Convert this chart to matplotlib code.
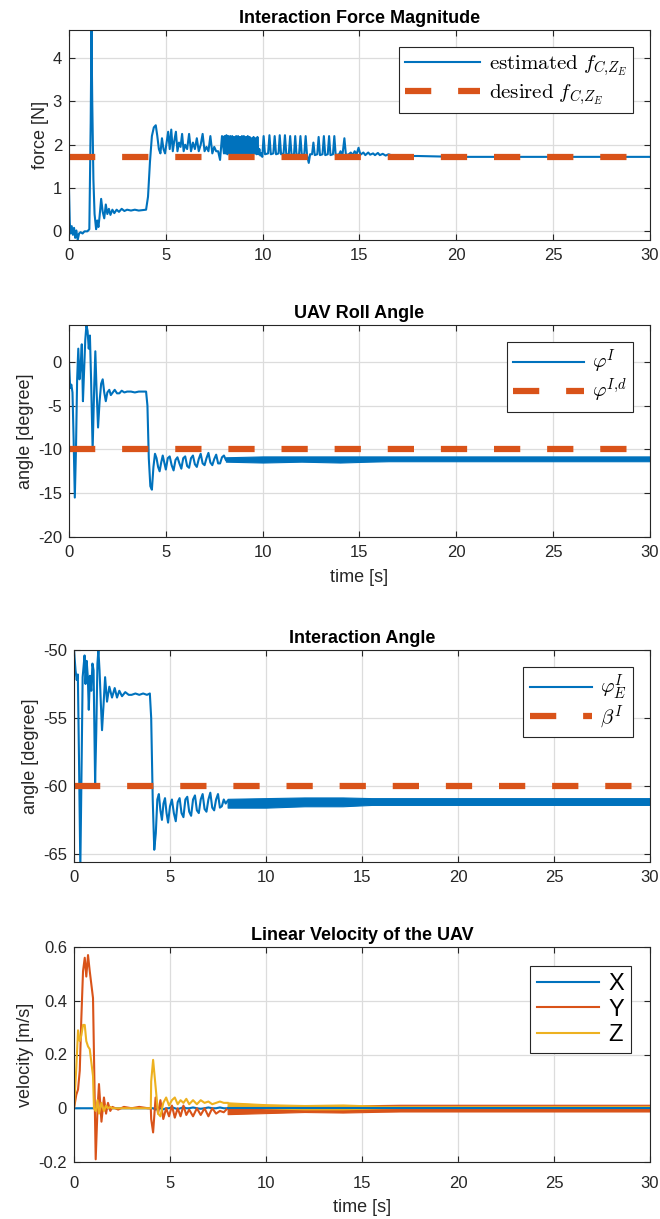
import matplotlib
matplotlib.use("Agg")
import matplotlib.pyplot as plt
import numpy as np

plt.rcParams['font.family'] = ['Liberation Sans', 'DejaVu Sans']
plt.rcParams['mathtext.fontset'] = 'cm'

BLUE = '#0072BD'
ORANGE = '#D95319'
YELLOW = '#EDB120'

# ---- interaction force (estimated), [s], [N]
force_t = [0.00, 0.04, 0.08, 0.14, 0.20, 0.26, 0.32, 0.38, 0.45, 0.52, 0.60, 0.70, 0.80, 0.95,
           1.05, 1.12, 1.16, 1.20, 1.26, 1.32, 1.40, 1.46, 1.52, 1.58, 1.66, 1.74, 1.82, 1.90,
           1.98, 2.06, 2.14, 2.24, 2.34, 2.46, 2.58, 2.72, 2.86, 3.00, 3.20, 3.40, 3.60, 3.80,
           3.98, 4.08, 4.18, 4.28, 4.38, 4.48, 4.56, 4.64, 4.72, 4.80, 4.88, 4.96, 5.04, 5.12,
           5.20, 5.28, 5.36, 5.44, 5.52, 5.60, 5.68, 5.76, 5.84, 5.92, 6.00, 6.10, 6.20, 6.30,
           6.40, 6.50, 6.60, 6.70, 6.80, 6.90, 7.00, 7.10, 7.20, 7.30, 7.40, 7.50, 7.60, 7.70,
           7.80, 7.90, 8.00,
           8.03, 8.08, 8.13, 8.18, 8.23, 8.28, 8.33, 8.38, 8.43, 8.48, 8.53, 8.58, 8.63, 8.68,
           8.73, 8.78, 8.83, 8.88, 8.93, 8.98, 9.03, 9.08, 9.13, 9.18, 9.23, 9.28, 9.33, 9.38,
           9.43, 9.48, 9.53, 9.58, 9.63, 9.68, 9.73, 9.78, 9.83, 9.88, 9.93, 9.98,
           10.05, 10.12, 10.28, 10.35, 10.42, 10.55, 10.62, 10.69, 10.82, 10.88, 10.95, 11.08,
           11.15, 11.22, 11.35, 11.42, 11.49, 11.62, 11.68, 11.75, 11.88, 11.95, 12.02, 12.15,
           12.22, 12.29, 12.38, 12.45, 12.55, 12.62, 12.69, 12.82, 12.89, 12.96, 13.09, 13.16,
           13.23, 13.36, 13.43, 13.50, 13.63, 13.70, 13.77, 13.95, 14.02, 14.12, 14.22, 14.30,
           14.45, 14.55, 14.65, 14.75, 14.85, 14.95, 15.05, 15.20, 15.30, 15.45, 15.55, 15.70,
           15.80, 15.95, 16.05, 16.20, 16.35, 16.50, 16.70, 17.00, 17.50, 18.00, 19.00, 20.00,
           30.00]
force_v = [0.95, 0.20, -0.05, 0.12, -0.08, 0.08, -0.15, 0.02, -0.20, -0.05, -0.02, -0.05, 0.00, 0.00,
           0.05, 2.50, 4.67, 3.00, 1.20, 0.40, 0.05, 0.25, 0.10, 0.35, 0.75, 0.45, 0.30, 0.62,
           0.40, 0.52, 0.38, 0.50, 0.42, 0.50, 0.45, 0.52, 0.47, 0.50, 0.48, 0.50, 0.48, 0.49,
           0.50, 0.80, 1.60, 2.20, 2.40, 2.45, 2.20, 1.90, 1.80, 2.15, 1.90, 1.80, 2.05, 2.30,
           1.90, 2.35, 1.85, 2.10, 2.30, 1.85, 2.05, 1.95, 2.25, 1.85, 2.00, 1.90, 2.25, 1.85,
           2.05, 1.90, 2.15, 1.85, 2.00, 2.25, 1.85, 1.95, 1.85, 2.20, 1.80, 1.95, 1.85, 1.85,
           1.65, 2.20, 1.80,
           2.20, 1.80, 2.22, 1.78, 2.20, 1.80, 2.20, 1.78, 2.20, 1.80, 2.18, 1.80, 2.20, 1.78,
           2.20, 1.80, 2.18, 1.78, 2.20, 1.80, 2.20, 1.78, 2.18, 1.80, 2.20, 1.78, 2.18, 1.80,
           2.15, 1.78, 2.18, 1.80, 2.15, 1.78, 2.18, 1.78, 1.90, 1.75, 1.80, 1.72,
           2.20, 1.78, 1.80, 2.22, 1.78, 1.80, 2.20, 1.78, 1.80, 2.22, 1.78, 1.80,
           2.22, 1.78, 1.78, 2.20, 1.76, 1.78, 2.20, 1.76, 1.78, 2.20, 1.76, 1.78,
           2.20, 1.76, 1.58, 1.78, 1.78, 2.05, 1.76, 1.78, 2.18, 1.76, 1.78, 2.20,
           1.76, 1.78, 2.20, 1.76, 1.78, 2.20, 1.76, 1.78, 1.85, 1.76, 2.15, 1.76,
           1.78, 1.82, 1.76, 1.85, 1.78, 1.93, 1.77, 1.82, 1.76, 1.82, 1.77, 1.80,
           1.76, 1.81, 1.76, 1.79, 1.75, 1.78, 1.75, 1.76, 1.74, 1.74, 1.73, 1.72,
           1.72]
force_ref = 1.72

# ---- UAV roll angle [degree]
roll_t = [0.00, 0.06, 0.12, 0.18, 0.24, 0.30, 0.36, 0.42, 0.48, 0.54, 0.60, 0.66, 0.72, 0.78,
          0.84, 0.90, 0.96, 1.02, 1.08, 1.14, 1.22, 1.30, 1.36, 1.42, 1.50, 1.58, 1.66, 1.74,
          1.82, 1.90, 1.98, 2.08, 2.16, 2.26, 2.36, 2.48, 2.60, 2.72, 2.86, 3.00, 3.20, 3.40,
          3.60, 3.80, 3.98, 4.05, 4.12, 4.20, 4.28, 4.36, 4.44, 4.52, 4.60, 4.68, 4.76, 4.84,
          4.92, 5.00, 5.10, 5.20, 5.30, 5.40, 5.50, 5.60, 5.70, 5.80, 5.90, 6.00, 6.10, 6.20,
          6.30, 6.40, 6.50, 6.60, 6.70, 6.80, 6.90, 7.00, 7.10, 7.20, 7.30, 7.40, 7.50, 7.60,
          7.70, 7.80, 7.90, 8.00, 8.10]
roll_v = [0.0, -3.0, -2.6, -3.5, -9.0, -15.5, -10.0, -2.0, 1.5, -2.0, -0.5, 2.0, -4.5, -1.0,
          2.5, 4.2, 3.5, 1.5, 3.0, -2.0, -10.0, -3.0, 1.2, -3.0, -7.5, -4.5, -2.5, -2.0,
          -3.5, -4.5, -3.5, -3.2, -3.8, -3.5, -3.2, -3.6, -3.6, -3.3, -3.5, -3.4, -3.4, -3.5,
          -3.4, -3.4, -3.4, -5.0, -11.0, -14.2, -14.6, -12.0, -10.5, -11.0, -12.0, -12.5, -11.5, -10.7,
          -11.5, -12.3, -11.0, -10.8, -11.8, -12.4, -11.2, -10.9, -11.6, -12.2, -11.0, -10.8, -11.9, -12.1,
          -11.0, -10.7, -11.7, -12.0, -11.1, -10.5, -11.6, -11.8, -11.0, -10.4, -11.5, -11.8, -11.1, -10.6,
          -11.6, -11.6, -10.9, -10.7, -11.2]
roll_band_t = [8.1, 10.0, 12.0, 14.0, 15.5, 16.5, 30.0]
roll_band_lo = [-11.4, -11.5, -11.4, -11.5, -11.4, -11.35, -11.35]
roll_band_hi = [-10.9, -10.8, -10.8, -10.8, -10.8, -10.8, -10.8]
roll_ref = -10.0

# ---- interaction angle [degree]
ang_t = [0.00, 0.08, 0.14, 0.20, 0.26, 0.33, 0.40, 0.45, 0.50, 0.55, 0.60, 0.66, 0.72, 0.77,
         0.83, 0.90, 0.96, 1.02, 1.10, 1.16, 1.22, 1.27, 1.33, 1.40, 1.46, 1.54, 1.62, 1.72,
         1.84, 1.98, 2.12, 2.24, 2.36, 2.50, 2.67, 2.85, 3.00, 3.20, 3.40, 3.60, 3.80, 3.95,
         4.02, 4.10, 4.18, 4.26, 4.34, 4.42, 4.50, 4.58, 4.66, 4.74, 4.82, 4.90, 5.00, 5.10,
         5.20, 5.30, 5.40, 5.50, 5.60, 5.70, 5.80, 5.90, 6.00, 6.10, 6.20, 6.30, 6.40, 6.50,
         6.60, 6.70, 6.80, 6.90, 7.00, 7.10, 7.20, 7.30, 7.40, 7.50, 7.60, 7.70, 7.80, 7.90,
         8.00]
ang_v = [-50.0, -51.5, -52.2, -51.8, -58.0, -66.0, -58.0, -52.0, -51.2, -50.4, -52.5, -50.8, -52.0, -54.4,
         -51.9, -53.0, -51.0, -51.5, -59.8, -56.0, -51.0, -50.0, -51.5, -54.0, -55.9, -54.0, -52.0, -53.8,
         -52.7, -53.5, -52.8, -53.5, -53.0, -53.4, -53.1, -53.3, -53.3, -53.2, -53.3, -53.2, -53.3, -53.2,
         -55.0, -61.0, -64.7, -63.5, -61.0, -60.6, -61.8, -62.5, -61.3, -60.9, -62.0, -62.7, -61.5, -61.0,
         -62.0, -62.6, -61.2, -60.9, -62.0, -62.3, -61.0, -60.8, -61.9, -62.2, -61.0, -60.7, -61.8, -62.0,
         -61.0, -60.6, -61.7, -61.9, -61.0, -60.5, -61.6, -61.8, -61.0, -60.6, -61.6, -61.5, -61.0, -61.3,
         -61.1]
ang_band_t = [8.0, 10.0, 12.0, 14.0, 15.5, 16.5, 30.0]
ang_band_lo = [-61.6, -61.6, -61.5, -61.5, -61.4, -61.4, -61.4]
ang_band_hi = [-60.95, -60.9, -60.85, -60.85, -60.9, -60.9, -60.9]
ang_ref = -60.0

# ---- linear velocity [m/s]
vel_t = [0.00, 0.12, 0.21, 0.30, 0.38, 0.47, 0.56, 0.64, 0.73, 0.82, 0.99, 1.04, 1.13, 1.22,
         1.30, 1.43, 1.56, 1.67, 1.77, 1.89, 2.00, 2.30, 2.60, 3.00, 3.40, 3.85, 4.00, 4.02,
         4.12, 4.25, 4.38, 4.50, 4.65, 4.80, 4.95, 5.10, 5.25, 5.40, 5.55, 5.70, 5.85, 6.00,
         6.20, 6.40, 6.60, 6.80, 7.00, 7.20, 7.40, 7.60, 7.80, 8.00]
vel_x = [0.0, 0.0, 0.0, 0.0, 0.0, 0.0, 0.0, 0.0, 0.0, 0.0, 0.0, 0.0, 0.0, 0.0,
         0.0, 0.0, 0.0, 0.0, 0.0, 0.0, 0.0, 0.0, 0.0, 0.0, 0.0, 0.0, 0.0, 0.0,
         0.0, -0.005, 0.0, 0.0, -0.004, 0.0, 0.0, 0.004, 0.0, -0.003, 0.0, 0.004, 0.0, 0.0,
         0.003, 0.0, -0.002, 0.0, 0.003, 0.0, 0.0, 0.003, 0.0, 0.0]
vel_y = [0.0, 0.05, 0.07, 0.14, 0.33, 0.51, 0.56, 0.49, 0.57, 0.51, 0.41, 0.20, -0.19, -0.01,
         0.09, -0.05, 0.04, -0.02, 0.02, -0.01, 0.005, -0.005, 0.005, 0.0, 0.005, 0.0, 0.0, -0.04,
         -0.09, 0.04, -0.02, 0.03, -0.04, 0.0, -0.03, 0.01, -0.035, 0.0, -0.03, 0.01, -0.025, -0.005,
         -0.03, 0.0, -0.025, 0.0, -0.03, 0.0, -0.02, -0.01, -0.015, 0.0]
vel_z = [0.0, 0.15, 0.29, 0.25, 0.27, 0.31, 0.31, 0.25, 0.23, 0.22, 0.12, 0.0, -0.01, 0.03,
         -0.02, 0.02, -0.01, 0.01, 0.0, 0.005, 0.0, 0.0, 0.0, 0.0, 0.0, 0.0, 0.0, 0.10,
         0.18, 0.08, -0.02, -0.03, 0.02, 0.04, 0.01, 0.03, 0.04, 0.015, 0.03, 0.02, 0.035, 0.015,
         0.03, 0.015, 0.03, 0.02, 0.025, 0.015, 0.02, 0.025, 0.02, 0.02]
vel_band_t = [8.0, 10.0, 12.0, 14.0, 16.0, 17.0, 30.0]
vel_y_lo = [-0.022, -0.018, -0.014, -0.016, -0.013, -0.012, -0.012]
vel_y_hi = [0.004, 0.006, 0.010, 0.010, 0.012, 0.013, 0.013]
vel_z_lo = [0.008, 0.0, -0.004, -0.004, 0.0, 0.001, 0.001]
vel_z_hi = [0.022, 0.015, 0.012, 0.014, 0.009, 0.008, 0.008]

W, H = 660, 1219
fig = plt.figure(figsize=(W / 100, H / 100), dpi=100)


def make_axes(l, t, r, b):
    return fig.add_axes([l / W, 1 - b / H, (r - l) / W, (b - t) / H])


def style(ax, title, ylabel, xlabel=None, xpad=6):
    ax.set_xlim(0, 30)
    ax.set_xticks(np.arange(0, 31, 5))
    ax.grid(True, color='#dcdcdc', linewidth=0.9)
    ax.set_axisbelow(True)
    ax.tick_params(direction='in', length=4, top=True, right=True, labelsize=12,
                   colors='#262626', width=0.8)
    ax.tick_params(axis='x', pad=xpad)
    ax.tick_params(axis='y', pad=5)
    for s in ax.spines.values():
        s.set_color('#262626')
        s.set_linewidth(0.8)
    ax.set_title(title, fontsize=13, fontweight='bold', pad=5)
    ax.set_ylabel(ylabel, fontsize=13, color='#262626', labelpad=3)
    if xlabel:
        ax.set_xlabel(xlabel, fontsize=13, color='#262626', labelpad=6)


def legend(ax, **kw):
    leg = ax.legend(loc='upper right', fancybox=False, framealpha=1, edgecolor='#262626',
                    borderpad=0.3, handletextpad=0.4, borderaxespad=0.8, **kw)
    leg.get_frame().set_linewidth(0.8)
    return leg


dash = dict(color=ORANGE, linewidth=4.5, dashes=(4.2, 4.3), solid_capstyle='butt',
            dash_capstyle='butt')

# panel 1
ax1 = make_axes(69, 30, 650, 240)
ax1.plot(force_t, force_v, color=BLUE, linewidth=1.5, label=r'$\mathrm{estimated}\ f_{C{,}Z_E}$')
ax1.plot([0, 30], [force_ref, force_ref], label=r'$\mathrm{desired}\ f_{C{,}Z_E}$', **dash)
ax1.set_ylim(-0.2, 4.65)
ax1.set_yticks([0, 1, 2, 3, 4])
style(ax1, 'Interaction Force Magnitude', 'force [N]')
legend(ax1, fontsize=15, handlelength=3.6, labelspacing=0.2)

# panel 2
ax2 = make_axes(69, 325, 650, 537)
ax2.plot(roll_t, roll_v, color=BLUE, linewidth=1.5, label=r'$\varphi^I$')
ax2.fill_between(roll_band_t, roll_band_lo, roll_band_hi, color=BLUE, linewidth=0.8)
ax2.plot([0, 30], [roll_ref, roll_ref], label=r'$\varphi^{I{,}d}$', **dash)
ax2.set_ylim(-20, 4.2)
ax2.set_yticks([-20, -15, -10, -5, 0])
style(ax2, 'UAV Roll Angle', 'angle [degree]', 'time [s]')
legend(ax2, fontsize=15, handlelength=3.4, labelspacing=0.05)

# panel 3
ax3 = make_axes(74, 650, 650, 862)
ax3.plot(ang_t, ang_v, color=BLUE, linewidth=1.5, label=r'$\varphi_E^I$')
ax3.fill_between(ang_band_t, ang_band_lo, ang_band_hi, color=BLUE, linewidth=0.8)
ax3.plot([0, 30], [ang_ref, ang_ref], label=r'$\beta^I$', **dash)
ax3.set_ylim(-65.6, -50)
ax3.set_yticks([-65, -60, -55, -50])
style(ax3, 'Interaction Angle', 'angle [degree]')
legend(ax3, fontsize=15, handlelength=3.0, labelspacing=0.05)

# panel 4
ax4 = make_axes(74, 947, 650, 1162)
ax4.plot(vel_t, vel_x, color=BLUE, linewidth=1.5, label='X')
ax4.plot(vel_t, vel_y, color=ORANGE, linewidth=1.5, label='Y')
ax4.plot(vel_t, vel_z, color=YELLOW, linewidth=1.5, label='Z')
ax4.plot([8, 30], [0, 0], color=BLUE, linewidth=1.5)
ax4.fill_between(vel_band_t, vel_y_lo, vel_y_hi, color=ORANGE, linewidth=0.8)
ax4.fill_between(vel_band_t, vel_z_lo, vel_z_hi, color=YELLOW, linewidth=0.8)
ax4.set_ylim(-0.2, 0.6)
ax4.set_yticks([-0.2, 0, 0.2, 0.4, 0.6])
ax4.set_yticklabels(['-0.2', '0', '0.2', '0.4', '0.6'])
style(ax4, 'Linear Velocity of the UAV', 'velocity [m/s]', 'time [s]', xpad=10)
legend(ax4, fontsize=17, handlelength=2.6, labelspacing=0.15)

for ax in (ax1, ax2, ax3):
    ax.set_yticklabels([str(int(v)) for v in ax.get_yticks()])

fig.savefig('out.png', dpi=100)
